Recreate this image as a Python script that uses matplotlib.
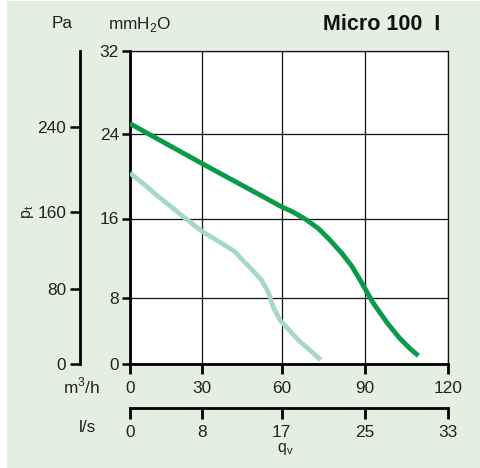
import numpy as np
import matplotlib
matplotlib.use("Agg")
import matplotlib.pyplot as plt

plt.rcParams['font.family'] = ['Liberation Sans', 'DejaVu Sans']
plt.rcParams['mathtext.fontset'] = 'custom'
plt.rcParams['mathtext.rm'] = 'Liberation Sans'

# ---- data ----
title = "Micro 100  I"
x_ticks = [0, 30, 60, 90, 120]              # m3/h
ls_ticks = [0, 8, 17, 25, 33]               # l/s labels
y_ticks = [0, 8, 16, 24, 32]                # mmH2O
pa_ticks = [0, 80, 160, 240]                # Pa

dark_q = [0, 30, 52, 60, 64.2, 69, 73.2, 77.5, 81.7, 85.3, 88.1, 90, 93, 97.8, 102.6, 106.2, 109.3]
dark_p = [25.0, 21.2, 18.2, 17.1, 16.6, 15.85, 15.0, 13.8, 12.5, 11.2, 9.9, 8.97, 7.4, 5.1, 3.1, 1.9, 1.0]

light_q = [0, 6, 11.6, 17.2, 22, 30, 36.2, 42.2, 44.6, 48.6, 52.4, 54.9, 56.8, 59.4, 66, 74.1]
light_p = [20.3, 19.2, 18.1, 17.1, 16.2, 14.7, 13.7, 12.7, 12.0, 10.9, 9.8, 8.6, 6.9, 5.3, 2.9, 0.5]

# ---- non-uniform scale positions (printed chart grid spacing) ----
X_POS = [0, 72, 151.5, 234.5, 317.5]
Y_POS = [0, 66, 145.5, 230, 313]
PA_POS = [0, 75, 152, 237]


def piecewise(xs, ys):
    xs = np.asarray(xs, float)
    ys = np.asarray(ys, float)

    def f(v):
        v = np.asarray(v, float)
        out = np.interp(v, xs, ys)
        s0 = (ys[1] - ys[0]) / (xs[1] - xs[0])
        s1 = (ys[-1] - ys[-2]) / (xs[-1] - xs[-2])
        out = np.where(v < xs[0], ys[0] + (v - xs[0]) * s0, out)
        out = np.where(v > xs[-1], ys[-1] + (v - xs[-1]) * s1, out)
        return out
    return f


xf, xi = piecewise(x_ticks, X_POS), piecewise(X_POS, x_ticks)
yf, yi = piecewise(y_ticks, Y_POS), piecewise(Y_POS, y_ticks)
pf, pi = piecewise(pa_ticks, PA_POS), piecewise(PA_POS, pa_ticks)

W, H = 481, 468
fig = plt.figure(figsize=(W / 100, H / 100), dpi=100)
fig.patch.set_facecolor('white')
bg = '#e4eee1'
fig.patches.append(matplotlib.patches.Rectangle((7 / W, 0), 1, 1 - 1 / H,
                                                transform=fig.transFigure,
                                                facecolor=bg, edgecolor='none', zorder=-10))

L, R, T, B = 130, 448, 51, 364
def fx(px): return px / W
def fy(py): return 1 - py / H

ax = fig.add_axes([fx(L), fy(B), (R - L) / W, (B - T) / H])
ax.set_facecolor('white')
ax.set_xscale('function', functions=(xf, xi))
ax.set_yscale('function', functions=(yf, yi))
ax.set_xlim(0, 120)
ax.set_ylim(0, 32)

ax.plot(light_q, light_p, color='#a6d8c6', lw=3.4, solid_capstyle='butt',
        solid_joinstyle='round', zorder=3)
ax.plot(dark_q, dark_p, color='#0a9a48', lw=3.5, solid_capstyle='butt',
        solid_joinstyle='round', zorder=4)

ax.set_xticks(x_ticks)
ax.set_xticklabels([str(v) for v in x_ticks])
ax.set_yticks(y_ticks)
ax.set_yticklabels([str(v) for v in y_ticks])
ax.xaxis.set_minor_locator(matplotlib.ticker.NullLocator())
ax.yaxis.set_minor_locator(matplotlib.ticker.NullLocator())
ax.grid(True, color='#111111', lw=0.9, zorder=1)
ax.set_axisbelow(True)
for s in ['top', 'right']:
    ax.spines[s].set_linewidth(0.9)
    ax.spines[s].set_color('#111111')
for s in ['left', 'bottom']:
    ax.spines[s].set_linewidth(2.0)
    ax.spines[s].set_color('black')
ax.tick_params(axis='y', direction='out', length=6, width=1.8, pad=2,
               labelsize=12.4, colors='black', labelcolor='#222222')
ax.tick_params(axis='x', direction='out', length=7, width=2.0, pad=5,
               labelsize=12.4, colors='black', labelcolor='#222222')

# Pa axis
axp = fig.add_axes([fx(80), fy(B), 0.01, (B - T) / H])
axp.set_yscale('function', functions=(pf, pi))
axp.set_ylim(0, float(pi(313)))
axp.patch.set_visible(False)
for s in ['top', 'right', 'bottom']:
    axp.spines[s].set_visible(False)
axp.spines['left'].set_linewidth(2.0)
axp.set_xticks([])
axp.set_yticks(pa_ticks)
axp.set_yticklabels([str(v) for v in pa_ticks])
axp.yaxis.set_minor_locator(matplotlib.ticker.NullLocator())
axp.tick_params(axis='y', direction='out', length=7, width=1.8, pad=3,
                labelsize=12.4, labelcolor='#222222')

# l/s axis
axl = fig.add_axes([fx(L), fy(408), (R - L) / W, 0.001])
axl.set_xscale('function', functions=(xf, xi))
axl.set_xlim(0, 120)
axl.patch.set_visible(False)
for s in ['top', 'right', 'left']:
    axl.spines[s].set_visible(False)
axl.spines['bottom'].set_linewidth(2.0)
axl.set_yticks([])
axl.set_xticks(x_ticks)
axl.set_xticklabels([str(v) for v in ls_ticks])
axl.xaxis.set_minor_locator(matplotlib.ticker.NullLocator())
axl.tick_params(axis='x', direction='out', length=8, width=2.0, pad=4,
                labelsize=12.4, labelcolor='#222222')

# texts
def txt(px, py, s, **kw):
    fig.text(fx(px), fy(py), s, **kw)

txt(62, 24, 'Pa', ha='center', va='center', fontsize=12.4, color='#222222')
txt(140, 24, r'mmH$_\mathregular{2}$O', ha='center', va='center', fontsize=12.4, color='#222222')
txt(440, 24, title, ha='right', va='center', fontsize=15.5, fontweight='bold', color='#111111')
txt(28, 212, r'p$_\mathregular{t}$', ha='center', va='center', fontsize=11.5, rotation=90, color='#222222')
txt(82, 386, r'm$^\mathregular{3}$/h', ha='center', va='center', fontsize=12.4, color='#222222')
txt(87, 428, 'l/s', ha='center', va='center', fontsize=12.4, color='#222222')
txt(285, 449, r'q$_\mathregular{v}$', ha='center', va='center', fontsize=11.5, color='#222222')

fig.savefig('out.png', dpi=100, facecolor=fig.get_facecolor())
